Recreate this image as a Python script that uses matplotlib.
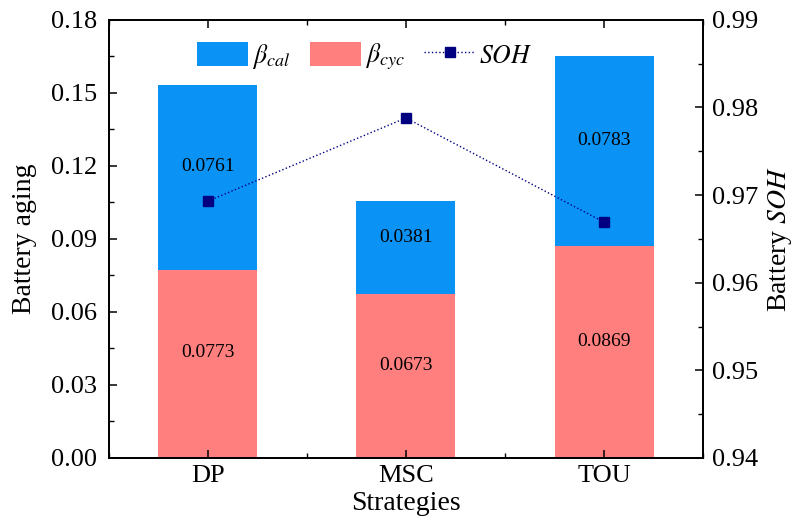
import numpy as np
import matplotlib.pyplot as plt
from matplotlib.ticker import MultipleLocator, AutoMinorLocator

plt.rcParams['font.family'] = ['Liberation Serif', 'DejaVu Serif']
plt.rcParams['mathtext.fontset'] = 'stix'

strategies = ['DP', 'MSC', 'TOU']
beta_cyc = [0.0773, 0.0673, 0.0869]
beta_cal = [0.0761, 0.0381, 0.0783]
soh = [0.9693, 0.9788, 0.9669]

blue = '#0A93F5'
pink = '#FF7F7F'
navy = '#000080'

fig, ax = plt.subplots(figsize=(7.92, 5.21), dpi=100)
fig.subplots_adjust(left=0.137, right=0.888, top=0.962, bottom=0.121)

x = np.arange(len(strategies))
b1 = ax.bar(x, beta_cal, 0.5, bottom=beta_cyc, color=blue, label=r'$\beta_{cal}$')
b2 = ax.bar(x, beta_cyc, 0.5, color=pink, label=r'$\beta_{cyc}$')

for xi, c, k in zip(x, beta_cyc, beta_cal):
    ax.text(xi, c / 2 + 0.0045, f'{c:.4f}', ha='center', va='center', fontsize=14)
    ax.text(xi, c + k / 2 + 0.0042, f'{k:.4f}', ha='center', va='center', fontsize=14)

ax.set_xlim(-0.5, 2.5)
ax.set_ylim(0, 0.18)
ax.set_xticks(x)
ax.set_xticklabels(strategies)
ax.yaxis.set_major_locator(MultipleLocator(0.03))
ax.yaxis.set_minor_locator(AutoMinorLocator(2))
ax.xaxis.set_minor_locator(MultipleLocator(0.5))
ax.yaxis.set_major_formatter(plt.FormatStrFormatter('%.2f'))
ax.set_xlabel('Strategies', fontsize=20, labelpad=3)
ax.set_ylabel('Battery aging', fontsize=20, labelpad=10)
ax.tick_params(axis='both', which='both', direction='in', top=True, labelsize=19)
ax.tick_params(which='major', length=6, width=1.1)
ax.tick_params(which='minor', length=3.5, width=1.0)
ax.tick_params(axis='x', which='both', pad=5)
ax.tick_params(axis='y', which='both', right=False, pad=8)

ax2 = ax.twinx()
ln, = ax2.plot(x, soh, ':', color=navy, marker='s', markersize=7, lw=1.0, label='$SOH$')
ax2.set_ylim(0.94, 0.99)
ax2.yaxis.set_major_locator(MultipleLocator(0.01))
ax2.yaxis.set_minor_locator(AutoMinorLocator(2))
ax2.yaxis.set_major_formatter(plt.FormatStrFormatter('%.2f'))
ax2.tick_params(axis='y', which='both', direction='in', labelsize=19, pad=6.5)
ax2.tick_params(which='major', length=6, width=1.1)
ax2.tick_params(which='minor', length=3.5, width=1.0)
ax2.set_ylabel('Battery $SOH$', fontsize=20, labelpad=5)

for a in (ax, ax2):
    for s in a.spines.values():
        s.set_linewidth(1.3)

ax.legend(handles=[b1, b2, ln], loc='center left', bbox_to_anchor=(0.11, 0.915), ncol=3,
          frameon=False, fontsize=18.5, handlelength=2.0, handleheight=1.05, columnspacing=0.75,
          handletextpad=0.15)

fig.savefig('out.png', dpi=100)
